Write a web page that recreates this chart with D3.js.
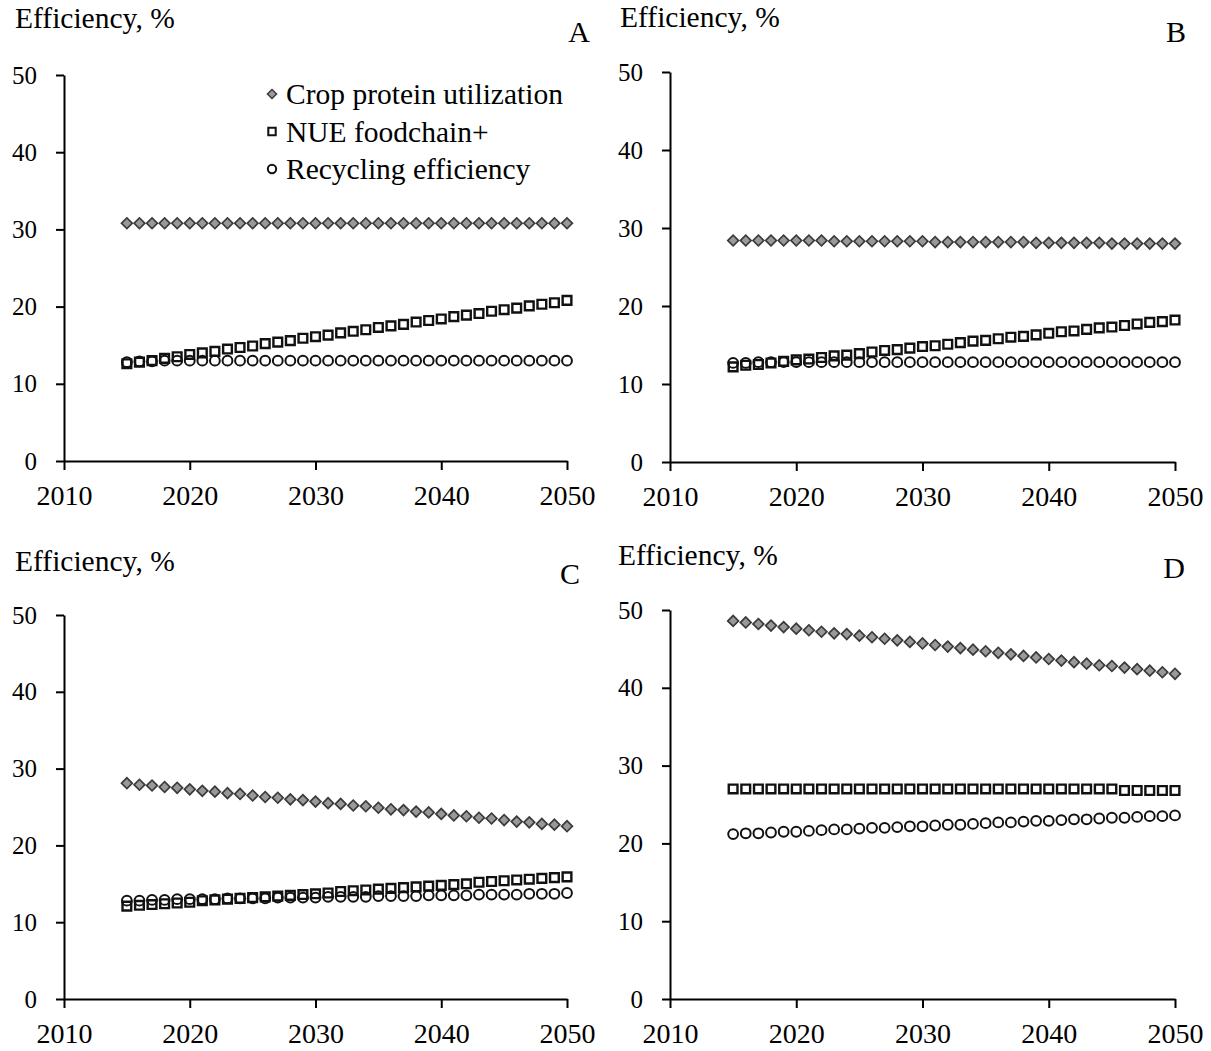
<!DOCTYPE html>
<html>
<head>
<meta charset="utf-8">
<script src="https://cdn.jsdelivr.net/npm/d3@7"></script>
<style>
  body { margin: 0; background: #fff; }
  text { font-family: "Liberation Serif", "Times New Roman", serif; fill: #000; }
  .axis path, .axis line { stroke: #000; stroke-width: 2; }
  .axis text { font-family: "Liberation Serif", "Times New Roman", serif; }
</style>
</head>
<body>
<div id="chart"></div>
<script>
let width = 1211,
    height = 1051;

// data
const years = [2015, 2016, 2017, 2018, 2019, 2020, 2021, 2022, 2023, 2024, 2025, 2026,
  2027, 2028, 2029, 2030, 2031, 2032, 2033, 2034, 2035, 2036, 2037, 2038,
  2039, 2040, 2041, 2042, 2043, 2044, 2045, 2046, 2047, 2048, 2049, 2050];

const seriesNames = ["Crop protein utilization", "NUE foodchain+", "Recycling efficiency"];
const panelNames = ["A", "B", "C", "D"];
const yTicks = [0, 10, 20, 30, 40, 50];
const xTicks = [2010, 2020, 2030, 2040, 2050];
const yLabel = "Efficiency, %";

const cropA = [30.8, 30.8, 30.8, 30.8, 30.8, 30.8, 30.8, 30.8, 30.8, 30.8, 30.8, 30.8,
  30.8, 30.8, 30.8, 30.8, 30.8, 30.8, 30.8, 30.8, 30.8, 30.8, 30.8, 30.8,
  30.8, 30.8, 30.8, 30.8, 30.8, 30.8, 30.8, 30.8, 30.8, 30.8, 30.8, 30.8];
const nueA = [12.6, 12.8, 13.0, 13.3, 13.5, 13.8, 14.0, 14.2, 14.5, 14.7, 14.9, 15.2,
  15.4, 15.6, 15.9, 16.1, 16.3, 16.6, 16.8, 17.0, 17.3, 17.5, 17.7, 18.0,
  18.2, 18.4, 18.7, 18.9, 19.1, 19.4, 19.6, 19.8, 20.1, 20.3, 20.5, 20.8];
const recA = [12.8, 12.9, 12.9, 13.0, 13.0, 13.0, 13.0, 13.0, 13.0, 13.0, 13.0, 13.0,
  13.0, 13.0, 13.0, 13.0, 13.0, 13.0, 13.0, 13.0, 13.0, 13.0, 13.0, 13.0,
  13.0, 13.0, 13.0, 13.0, 13.0, 13.0, 13.0, 13.0, 13.0, 13.0, 13.0, 13.0];

const cropB = [28.4, 28.4, 28.4, 28.4, 28.4, 28.4, 28.4, 28.4, 28.3, 28.3, 28.3, 28.3,
  28.3, 28.3, 28.3, 28.3, 28.2, 28.2, 28.2, 28.2, 28.2, 28.2, 28.2, 28.2,
  28.1, 28.1, 28.1, 28.1, 28.1, 28.1, 28.0, 28.0, 28.0, 28.0, 28.0, 28.0];
const nueB = [12.2, 12.4, 12.5, 12.7, 12.9, 13.1, 13.2, 13.4, 13.6, 13.7, 13.9, 14.1,
  14.3, 14.4, 14.6, 14.8, 14.9, 15.1, 15.3, 15.5, 15.6, 15.8, 16.0, 16.1,
  16.3, 16.5, 16.7, 16.8, 17.0, 17.2, 17.3, 17.5, 17.7, 17.9, 18.0, 18.2];
const recB = [12.7, 12.7, 12.8, 12.8, 12.8, 12.8, 12.8, 12.8, 12.8, 12.8, 12.8, 12.8,
  12.8, 12.8, 12.8, 12.8, 12.8, 12.8, 12.8, 12.8, 12.8, 12.8, 12.8, 12.8,
  12.8, 12.8, 12.8, 12.8, 12.8, 12.8, 12.8, 12.8, 12.8, 12.8, 12.8, 12.8];

const cropC = [28.1, 27.9, 27.8, 27.6, 27.5, 27.3, 27.1, 27.0, 26.8, 26.7, 26.5, 26.3,
  26.2, 26.0, 25.9, 25.7, 25.5, 25.4, 25.2, 25.1, 24.9, 24.7, 24.6, 24.4,
  24.3, 24.1, 23.9, 23.8, 23.6, 23.5, 23.3, 23.1, 23.0, 22.8, 22.7, 22.5];
const nueC = [12.1, 12.2, 12.3, 12.4, 12.5, 12.6, 12.8, 12.9, 13.0, 13.1, 13.2, 13.3,
  13.4, 13.5, 13.6, 13.7, 13.8, 14.0, 14.1, 14.2, 14.3, 14.4, 14.5, 14.6,
  14.7, 14.8, 14.9, 15.0, 15.2, 15.3, 15.4, 15.5, 15.6, 15.7, 15.8, 15.9];
const recC = [12.8, 12.8, 12.9, 12.9, 13.0, 13.0, 13.0, 13.0, 13.1, 13.1, 13.1, 13.1,
  13.2, 13.2, 13.2, 13.2, 13.3, 13.3, 13.3, 13.3, 13.4, 13.4, 13.4, 13.4,
  13.5, 13.5, 13.5, 13.5, 13.6, 13.6, 13.6, 13.6, 13.7, 13.7, 13.7, 13.8];

const cropD = [48.6, 48.4, 48.2, 48.0, 47.8, 47.6, 47.4, 47.2, 47.0, 46.9, 46.7, 46.5,
  46.3, 46.1, 45.9, 45.7, 45.5, 45.3, 45.1, 44.9, 44.7, 44.5, 44.3, 44.1,
  43.9, 43.7, 43.5, 43.3, 43.1, 42.9, 42.8, 42.6, 42.4, 42.2, 42.0, 41.8];
const nueD = [27.0, 27.0, 27.0, 27.0, 27.0, 27.0, 27.0, 27.0, 27.0, 27.0, 27.0, 27.0,
  27.0, 27.0, 27.0, 27.0, 27.0, 27.0, 27.0, 27.0, 27.0, 27.0, 27.0, 27.0,
  27.0, 27.0, 27.0, 27.0, 27.0, 27.0, 27.0, 26.8, 26.8, 26.8, 26.8, 26.8];
const recD = [21.2, 21.3, 21.3, 21.4, 21.5, 21.5, 21.6, 21.7, 21.8, 21.8, 21.9, 22.0,
  22.0, 22.1, 22.2, 22.2, 22.3, 22.4, 22.4, 22.5, 22.6, 22.7, 22.7, 22.8,
  22.9, 22.9, 23.0, 23.1, 23.1, 23.2, 23.3, 23.3, 23.4, 23.5, 23.5, 23.6];

const panelData = [
  [cropA, nueA, recA],
  [cropB, nueB, recB],
  [cropC, nueC, recC],
  [cropD, nueD, recD]
];

// layout of each panel (pixel boxes of the plot area + label spots)
const layout = [
  { x0: 64,  x1: 567,  y0: 461, y1: 75,  labelX: 15,  labelY: 28,  letterX: 590,  letterY: 42 },
  { x0: 670, x1: 1175, y0: 462, y1: 72,  labelX: 620, labelY: 27,  letterX: 1186, letterY: 42 },
  { x0: 64,  x1: 567,  y0: 999, y1: 615, labelX: 15,  labelY: 571, letterX: 580,  letterY: 584 },
  { x0: 670, x1: 1175, y0: 999, y1: 610, labelX: 618, labelY: 565, letterX: 1185, letterY: 578 }
];

const svg = d3.select("#chart")
  .append("svg")
  .attr("width", width)
  .attr("height", height)
  .attr("viewBox", [0, 0, width, height]);

// marker drawers
const diamond = d3.symbol(d3.symbolSquare, 58);
const square = d3.symbol(d3.symbolSquare, 76);

function drawMarker(g, kind, cx, cy, small) {
  let s = small ? 0.85 : 1;
  if (kind === 0) {
    g.append("path")
      .attr("d", diamond())
      .attr("transform", `translate(${cx},${cy}) rotate(45) scale(${s})`)
      .attr("fill", "#999")
      .attr("stroke", "#3a3a3a")
      .attr("stroke-width", 1.7);
  } else if (kind === 1) {
    g.append("path")
      .attr("d", square())
      .attr("transform", `translate(${cx},${cy}) scale(${s})`)
      .attr("fill", "#fff")
      .attr("stroke", "#111")
      .attr("stroke-width", 2.4);
  } else {
    g.append("circle")
      .attr("cx", cx)
      .attr("cy", cy)
      .attr("r", 4.9 * s)
      .attr("fill", "none")
      .attr("stroke", "#111")
      .attr("stroke-width", 2);
  }
}

panelData.forEach((series, i) => {
  let L = layout[i];

  let x = d3.scaleLinear()
    .domain([2010, 2050])
    .range([L.x0, L.x1]);

  let y = d3.scaleLinear()
    .domain([0, 50])
    .range([L.y0, L.y1]);

  let g = svg.append("g").attr("class", "panel");

  // y axis
  g.append("g")
    .attr("class", "axis")
    .attr("transform", `translate(${L.x0},0)`)
    .call(d3.axisLeft(y)
      .tickValues(yTicks)
      .tickSize(8)
      .tickSizeOuter(0)
      .tickPadding(19))
    .call(a => a.selectAll("text").attr("font-size", 25));

  // x axis
  g.append("g")
    .attr("class", "axis")
    .attr("transform", `translate(0,${L.y0})`)
    .call(d3.axisBottom(x)
      .tickValues(xTicks)
      .tickFormat(d3.format("d"))
      .tickSize(9)
      .tickSizeOuter(0)
      .tickPadding(15))
    .call(a => a.selectAll("text").attr("font-size", 28));

  // axis title + panel letter
  g.append("text")
    .attr("x", L.labelX)
    .attr("y", L.labelY)
    .attr("font-size", 29.5)
    .text(yLabel);

  g.append("text")
    .attr("x", L.letterX)
    .attr("y", L.letterY)
    .attr("text-anchor", "end")
    .attr("font-size", 30)
    .text(panelNames[i]);

  // squares first, circles over them, diamonds on top
  [1, 2, 0].forEach(k => {
    let sg = g.append("g").attr("class", "series-" + k);
    series[k].forEach((v, j) => drawMarker(sg, k, x(years[j]), y(v)));
  });
});

// legend (panel A only)
const legend = svg.append("g").attr("class", "legend");
seriesNames.forEach((name, k) => {
  let ly = 94 + k * 37.5;
  drawMarker(legend, k, 272, ly, true);
  legend.append("text")
    .attr("x", 286)
    .attr("y", ly)
    .attr("dy", "0.35em")
    .attr("font-size", 29.5)
    .text(name);
});
</script>
</body>
</html>
